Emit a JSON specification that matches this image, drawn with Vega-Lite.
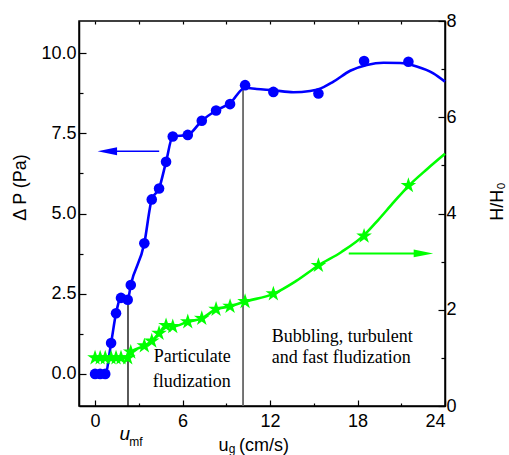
{
  "$schema": "https://vega.github.io/schema/vega-lite/v6.json",
  "width": 366,
  "height": 385,
  "autosize": "none",
  "padding": {"left": 79, "top": 21, "right": 64, "bottom": 49},
  "background": "white",
  "config": {
    "view": {"stroke": "black", "strokeWidth": 1.5},
    "axis": {
      "labelFont": "Liberation Sans",
      "labelFontSize": 18,
      "labelColor": "black",
      "titleFont": "Liberation Sans",
      "titleFontSize": 18,
      "titleFontWeight": "normal",
      "titleColor": "black",
      "domainColor": "black",
      "domainWidth": 1.5,
      "tickColor": "black",
      "tickWidth": 1.2,
      "grid": false
    }
  },
  "datasets": {
    "blueCurve": [
      {"u": 0, "p": 0}, {"u": 0.7, "p": 0}, {"u": 1.1, "p": 0.96}, {"u": 1.44, "p": 1.89},
      {"u": 1.78, "p": 2.37}, {"u": 2.24, "p": 2.31}, {"u": 2.45, "p": 2.77}, {"u": 3.38, "p": 4.07},
      {"u": 3.89, "p": 5.44}, {"u": 4.39, "p": 5.78}, {"u": 4.87, "p": 6.61}, {"u": 5.33, "p": 7.4},
      {"u": 6.36, "p": 7.45}, {"u": 7.32, "p": 7.89}, {"u": 8.3, "p": 8.21}, {"u": 9.26, "p": 8.44},
      {"u": 10.29, "p": 8.92}, {"u": 11.09, "p": 8.88}, {"u": 12.23, "p": 8.84}, {"u": 13.6, "p": 8.78},
      {"u": 14.75, "p": 8.82}, {"u": 15.32, "p": 8.87}, {"u": 16.35, "p": 9.11}, {"u": 17.5, "p": 9.45},
      {"u": 18.64, "p": 9.63}, {"u": 19.78, "p": 9.7}, {"u": 20.92, "p": 9.69}, {"u": 22.06, "p": 9.58},
      {"u": 23.2, "p": 9.37}, {"u": 24, "p": 9.11}
    ],
    "bluePoints": [
      {"u": 0, "p": 0}, {"u": 0.35, "p": 0}, {"u": 0.7, "p": 0}, {"u": 1.1, "p": 0.96},
      {"u": 1.44, "p": 1.89}, {"u": 1.78, "p": 2.37}, {"u": 2.24, "p": 2.31}, {"u": 2.45, "p": 2.77},
      {"u": 3.38, "p": 4.07}, {"u": 3.89, "p": 5.44}, {"u": 4.39, "p": 5.78}, {"u": 4.87, "p": 6.61},
      {"u": 5.33, "p": 7.4}, {"u": 6.36, "p": 7.45}, {"u": 7.32, "p": 7.89}, {"u": 8.3, "p": 8.21},
      {"u": 9.26, "p": 8.41}, {"u": 10.29, "p": 9.0}, {"u": 12.23, "p": 8.79}, {"u": 15.32, "p": 8.74},
      {"u": 18.45, "p": 9.75}, {"u": 21.49, "p": 9.73}
    ],
    "greenCurve": [
      {"u": 0, "h": 1.0}, {"u": 2.24, "h": 1.0}, {"u": 2.45, "h": 1.12}, {"u": 3.38, "h": 1.25},
      {"u": 3.89, "h": 1.35}, {"u": 4.39, "h": 1.51}, {"u": 4.87, "h": 1.67}, {"u": 5.33, "h": 1.65},
      {"u": 6.36, "h": 1.75}, {"u": 7.32, "h": 1.82}, {"u": 8.3, "h": 2.01}, {"u": 9.26, "h": 2.07},
      {"u": 10.29, "h": 2.17}, {"u": 12.23, "h": 2.33}, {"u": 13.8, "h": 2.6}, {"u": 15.32, "h": 2.92},
      {"u": 16.9, "h": 3.2}, {"u": 18.45, "h": 3.55}, {"u": 19.43, "h": 3.87}, {"u": 20.5, "h": 4.24},
      {"u": 21.49, "h": 4.57}, {"u": 22.8, "h": 4.93}, {"u": 24, "h": 5.24}
    ],
    "greenPoints": [
      {"u": 0, "h": 1.0}, {"u": 0.35, "h": 1.0}, {"u": 0.7, "h": 1.0}, {"u": 1.1, "h": 1.0},
      {"u": 1.44, "h": 1.0}, {"u": 1.78, "h": 1.0}, {"u": 2.24, "h": 1.0}, {"u": 2.45, "h": 1.12},
      {"u": 3.38, "h": 1.25}, {"u": 3.89, "h": 1.35}, {"u": 4.39, "h": 1.51}, {"u": 4.87, "h": 1.67},
      {"u": 5.33, "h": 1.65}, {"u": 6.36, "h": 1.75}, {"u": 7.32, "h": 1.82}, {"u": 8.3, "h": 2.01},
      {"u": 9.26, "h": 2.07}, {"u": 10.29, "h": 2.17}, {"u": 12.23, "h": 2.33}, {"u": 15.32, "h": 2.92},
      {"u": 18.45, "h": 3.53}, {"u": 21.49, "h": 4.58}
    ]
  },
  "layer": [
    {
      "layer": [
        {
          "data": {"values": [{"u": 2.26, "p1": -1, "p2": 2.31}]},
          "mark": {"type": "rule", "color": "black", "strokeWidth": 1.3},
          "encoding": {
            "x": {"field": "u", "type": "quantitative", "scale": {"domain": [-1.1, 24], "nice": false, "zero": false},
              "axis": {"orient": "bottom", "title": null, "values": [0, 3, 6, 9, 12, 15, 18, 21, 24],
                "labelExpr": "datum.value % 6 === 0 ? datum.label : ''",
                "tickSize": {"condition": {"test": "datum.value % 6 === 0", "value": -6}, "value": -3},
                "labelPadding": 12}},
            "y": {"field": "p1", "type": "quantitative", "scale": {"domain": [-1, 11], "nice": false, "zero": false},
              "axis": {"orient": "left", "title": "Δ P (Pa)", "values": [0, 1.25, 2.5, 3.75, 5, 6.25, 7.5, 8.75, 10],
                "format": ".1f",
                "labelExpr": "datum.value % 2.5 === 0 ? datum.label : ''",
                "tickSize": {"condition": {"test": "datum.value % 2.5 === 0", "value": -7}, "value": -4},
                "labelPadding": 10,
                "titleAngle": 270, "titleX": -59, "titleY": 166, "titleAlign": "center", "titleBaseline": "middle"}},
            "y2": {"field": "p2"}
          }
        },
        {
          "data": {"values": [{"u": 10.15, "p1": -1, "p2": 8.88}]},
          "mark": {"type": "rule", "color": "#666666", "strokeWidth": 1.8},
          "encoding": {
            "x": {"field": "u", "type": "quantitative"},
            "y": {"field": "p1", "type": "quantitative"},
            "y2": {"field": "p2"}
          }
        },
        {
          "data": {"name": "blueCurve"},
          "mark": {"type": "line", "color": "#0000ff", "strokeWidth": 2.6, "interpolate": "monotone"},
          "encoding": {
            "x": {"field": "u", "type": "quantitative"},
            "y": {"field": "p", "type": "quantitative"}
          }
        },
        {
          "data": {"name": "bluePoints"},
          "mark": {"type": "point", "shape": "circle", "filled": true, "color": "#0000ff", "opacity": 1, "size": 112},
          "encoding": {
            "x": {"field": "u", "type": "quantitative"},
            "y": {"field": "p", "type": "quantitative"}
          }
        },
        {
          "data": {"values": [{"u1": 0.84, "u2": 4.4, "p": 6.94}]},
          "mark": {"type": "rule", "color": "#0000ff", "strokeWidth": 1.6},
          "encoding": {
            "x": {"field": "u1", "type": "quantitative"},
            "x2": {"field": "u2"},
            "y": {"field": "p", "type": "quantitative"}
          }
        },
        {
          "data": {"values": [{"u": 0.84, "p": 6.94}]},
          "mark": {"type": "point", "shape": "M-1,0L1,-0.4L1,0.4Z", "filled": true, "color": "#0000ff", "opacity": 1, "size": 380},
          "encoding": {
            "x": {"field": "u", "type": "quantitative"},
            "y": {"field": "p", "type": "quantitative"}
          }
        },
        {
          "data": {"values": [{"u": 6.67, "p": 0.38, "t": "Particulate"}, {"u": 6.63, "p": -0.4, "t": "fludization"}]},
          "mark": {"type": "text", "font": "Liberation Serif", "fontSize": 18, "color": "black", "align": "center", "baseline": "alphabetic"},
          "encoding": {
            "x": {"field": "u", "type": "quantitative"},
            "y": {"field": "p", "type": "quantitative"},
            "text": {"field": "t"}
          }
        },
        {
          "data": {"values": [{"u": 12.12, "p": 0.98, "t": "Bubbling, turbulent"}, {"u": 12.12, "p": 0.35, "t": "and fast fludization"}]},
          "mark": {"type": "text", "font": "Liberation Serif", "fontSize": 18, "color": "black", "align": "left", "baseline": "alphabetic"},
          "encoding": {
            "x": {"field": "u", "type": "quantitative"},
            "y": {"field": "p", "type": "quantitative"},
            "text": {"field": "t"}
          }
        },
        {
          "data": {"values": [{"u": 2.04, "p": -2.06, "t": "u"}]},
          "mark": {"type": "text", "font": "Liberation Sans", "fontSize": 19, "fontStyle": "italic", "color": "black", "align": "center", "baseline": "alphabetic"},
          "encoding": {
            "x": {"field": "u", "type": "quantitative"},
            "y": {"field": "p", "type": "quantitative"},
            "text": {"field": "t"}
          }
        },
        {
          "data": {"values": [{"u": 2.8, "p": -2.24, "t": "mf"}, {"u": 9.4, "p": -2.45, "t": "g"}]},
          "mark": {"type": "text", "font": "Liberation Sans", "fontSize": 12, "color": "black", "align": "center", "baseline": "alphabetic"},
          "encoding": {
            "x": {"field": "u", "type": "quantitative"},
            "y": {"field": "p", "type": "quantitative"},
            "text": {"field": "t"}
          }
        },
        {
          "data": {"values": [{"u": 8.46, "p": -2.4, "t": "u"}, {"u": 9.88, "p": -2.4, "t": "(cm/s)"}]},
          "mark": {"type": "text", "font": "Liberation Sans", "fontSize": 18, "color": "black", "align": "left", "baseline": "alphabetic"},
          "encoding": {
            "x": {"field": "u", "type": "quantitative"},
            "y": {"field": "p", "type": "quantitative"},
            "text": {"field": "t"}
          }
        }
      ]
    },
    {
      "layer": [
        {
          "data": {"name": "greenCurve"},
          "mark": {"type": "line", "color": "#00ff00", "strokeWidth": 2.6, "interpolate": "monotone"},
          "encoding": {
            "x": {"field": "u", "type": "quantitative",
              "axis": {"orient": "top", "title": null, "labels": false, "domain": false, "values": [0, 3, 6, 9, 12, 15, 18, 21, 24], "tickSize": -3}},
            "y": {"field": "h", "type": "quantitative", "scale": {"domain": [0, 8], "nice": false, "zero": false},
              "axis": {"orient": "right", "title": "H/H₀", "values": [0, 1, 2, 3, 4, 5, 6, 7, 8],
                "labelExpr": "datum.value % 2 === 0 ? datum.label : ''",
                "tickSize": {"condition": {"test": "datum.value % 2 === 0", "value": -7}, "value": -4},
                "labelPadding": 8,
                "titleAngle": 270, "titleX": 52, "titleY": 180, "titleAlign": "center", "titleBaseline": "middle"}}
          }
        },
        {
          "data": {"name": "greenPoints"},
          "mark": {"type": "point", "shape": "M0,-1L0.223,-0.307L0.951,-0.309L0.361,0.117L0.588,0.809L0,0.38L-0.588,0.809L-0.361,0.117L-0.951,-0.309L-0.223,-0.307Z", "filled": true, "color": "#00ff00", "opacity": 1, "size": 270},
          "encoding": {
            "x": {"field": "u", "type": "quantitative"},
            "y": {"field": "h", "type": "quantitative"}
          }
        },
        {
          "data": {"values": [{"u1": 17.4, "u2": 22.52, "h": 3.17}]},
          "mark": {"type": "rule", "color": "#00ff00", "strokeWidth": 2},
          "encoding": {
            "x": {"field": "u1", "type": "quantitative"},
            "x2": {"field": "u2"},
            "y": {"field": "h", "type": "quantitative"}
          }
        },
        {
          "data": {"values": [{"u": 22.52, "h": 3.17}]},
          "mark": {"type": "point", "shape": "M1,0L-1,-0.4L-1,0.4Z", "filled": true, "color": "#00ff00", "opacity": 1, "size": 380},
          "encoding": {
            "x": {"field": "u", "type": "quantitative"},
            "y": {"field": "h", "type": "quantitative"}
          }
        }
      ]
    }
  ],
  "resolve": {"scale": {"y": "independent"}, "axis": {"x": "independent"}}
}
